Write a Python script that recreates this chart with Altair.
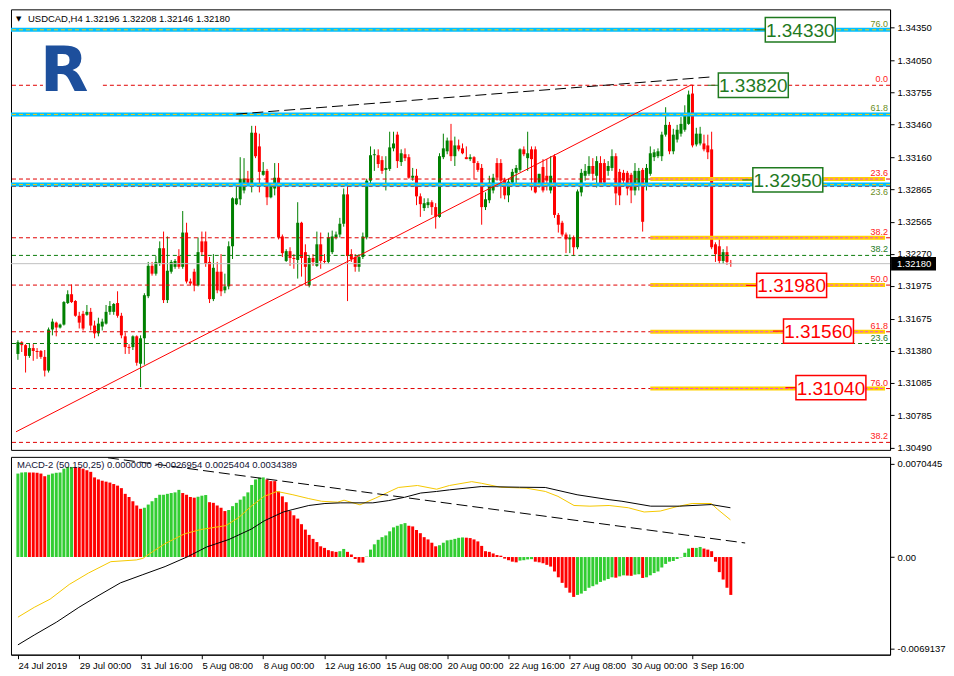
import altair as alt
import pandas as pd

# ---------------------------------------------------------------- data
header_text = "USDCAD,H4  1.32196 1.32208 1.32146 1.32180"
macd_title = "MACD-2 (50,150,25) 0.0000000 -0.0026954 0.0025404 0.0034389"

x_tick_labels = ["24 Jul 2019", "29 Jul 00:00", "31 Jul 16:00", "5 Aug 08:00", "8 Aug 00:00",
                 "12 Aug 16:00", "15 Aug 08:00", "20 Aug 00:00", "22 Aug 16:00", "27 Aug 08:00",
                 "30 Aug 00:00", "3 Sep 16:00"]
x_tick_step = 16  # bars between date labels

price_ticks = [1.34350, 1.34050, 1.33755, 1.33460, 1.33160, 1.32865, 1.32565, 1.32270,
               1.31975, 1.31675, 1.31380, 1.31085, 1.30785, 1.30490]
macd_ticks = [0.0070445, 0.0, -0.0069137]
macd_tick_labels = ["0.0070445", "0.00", "-0.0069137"]

# H4 candles, prices in points (1e-5)
open_pts = [
    131350, 131458, 131431, 131332, 131404, 131377, 131377, 131323, 131197, 131575,
    131638, 131593, 131620, 131818, 131899, 131836, 131701, 131719, 131710, 131737,
    131611, 131539, 131602, 131629, 131737, 131737, 131818, 131701, 131512, 131413,
    131413, 131512, 131260, 131494, 131881, 132160, 132088, 132187, 132322, 131845,
    132106, 132151, 132250, 132151, 132466, 132016, 132106, 131980, 132385, 132385,
    132196, 131854, 132106, 132106, 131935, 131971, 132340, 132727, 132772, 132853,
    132961, 132916, 133384, 133258, 132997, 133033, 132790, 132871, 132970, 132430,
    132205, 132295, 132232, 132214, 132556, 132286, 131980, 132232, 132160, 132358,
    132205, 132196, 132286, 132421, 132448, 132547, 132817, 132268, 132241, 132151,
    132241, 132421, 132943, 133177, 133177, 133132, 133042, 133051, 133240, 133366,
    133114, 133186, 133159, 132970, 132988, 132799, 132691, 132718, 132745, 132700,
    132610, 133159, 133213, 133312, 133168, 133267, 133240, 133159, 133141, 133159,
    133105, 133060, 132700, 132763, 132853, 133105, 133105, 132952, 132808, 132925,
    133015, 133042, 133231, 133150, 133231, 133231, 132898, 133069, 132988, 132853,
    133168, 132628, 132556, 132448, 132403, 132421, 132331, 132835, 132988, 133006,
    133078, 132988, 133105, 133105, 133033, 133060, 133168, 133024, 133015, 133015,
    132997, 132853, 132898, 133042, 132898, 133006, 133159, 133168, 133168, 133366,
    133456, 133213, 133321, 133375, 133411, 133465, 133744, 133276, 133285, 133285,
    133267, 133231, 132358, 132340, 132205, 132286, 132187]
high_pts = [
    131476, 131467, 131440, 131449, 131440, 131404, 131386, 131386, 131593, 131674,
    131647, 131629, 131836, 131935, 131989, 131845, 131737, 131746, 131800, 131773,
    131656, 131683, 131674, 131800, 131836, 131818, 131926, 131728, 131548, 131440,
    131521, 131521, 131521, 131908, 132196, 132196, 132250, 132385, 132475, 132430,
    132214, 132223, 132313, 132664, 132556, 132043, 132133, 132421, 132475, 132475,
    132241, 132268, 132196, 132268, 132088, 132385, 132790, 132916, 133159, 133150,
    133033, 133447, 133447, 133375, 133114, 133051, 132916, 133105, 133105, 132448,
    132313, 132331, 132268, 132745, 132565, 132358, 132250, 132268, 132475, 132466,
    132268, 132466, 132484, 132475, 132601, 132871, 132925, 132313, 132268, 132268,
    132466, 132961, 133258, 133231, 133231, 133168, 133168, 133393, 133393, 133393,
    133231, 133240, 133186, 133060, 133051, 132826, 132781, 132781, 132763, 132736,
    133195, 133375, 133339, 133465, 133348, 133321, 133285, 133258, 133186, 133168,
    133123, 133096, 132835, 132988, 133006, 133150, 133141, 132970, 132961, 133051,
    133087, 133240, 133258, 133393, 133258, 133258, 133006, 133141, 133141, 133168,
    133186, 132646, 132574, 132466, 132448, 132439, 132862, 133051, 133096, 133168,
    133150, 133168, 133168, 133141, 133123, 133231, 133195, 133051, 133042, 133033,
    133015, 133105, 133060, 133060, 133096, 133258, 133231, 133240, 133393, 133618,
    133483, 133420, 133456, 133528, 133636, 133771, 133825, 133429, 133438, 133366,
    133366, 133393, 132376, 132403, 132313, 132340, 132214]
low_pts = [
    131296, 131368, 131179, 131314, 131287, 131305, 131305, 131143, 131179, 131521,
    131512, 131584, 131611, 131809, 131818, 131692, 131584, 131566, 131701, 131566,
    131494, 131512, 131566, 131620, 131710, 131710, 131683, 131494, 131350, 131350,
    131386, 131242, 131044, 131251, 131863, 132070, 132070, 132160, 131818, 131818,
    132088, 132133, 132133, 132133, 131998, 131980, 131926, 131971, 132250, 132151,
    131818, 131836, 131908, 131881, 131908, 131944, 132223, 132718, 132718, 132826,
    132898, 132835, 133150, 132835, 132988, 132718, 132781, 132808, 132403, 132241,
    132196, 132160, 132133, 132043, 132061, 131980, 131962, 132160, 132151, 132133,
    132178, 132178, 132268, 132403, 132421, 132520, 131836, 132196, 132106, 132106,
    132223, 132403, 132898, 133033, 133060, 133006, 132853, 133033, 133213, 133060,
    133078, 133123, 132961, 132943, 132718, 132610, 132664, 132691, 132628, 132502,
    132601, 133141, 133186, 133123, 133078, 133213, 133186, 133141, 133123, 132961,
    133024, 132538, 132673, 132736, 132826, 132943, 132781, 132772, 132745, 132898,
    132898, 133024, 133168, 133033, 132853, 132826, 132880, 132835, 132853, 132826,
    132601, 132466, 132430, 132277, 132277, 132250, 132313, 132799, 132943, 132988,
    132943, 132880, 132898, 132898, 132988, 133033, 132718, 132718, 132889, 132808,
    132736, 132808, 132853, 132475, 132853, 132988, 133123, 133150, 133123, 133348,
    133186, 133186, 133294, 133348, 133393, 133456, 133249, 133258, 133267, 133213,
    133141, 132313, 132196, 132178, 132178, 132169, 132151]
close_pts = [
    131458, 131431, 131332, 131404, 131377, 131368, 131323, 131197, 131575, 131647,
    131593, 131620, 131827, 131899, 131827, 131701, 131638, 131584, 131737, 131611,
    131539, 131629, 131647, 131737, 131791, 131809, 131701, 131521, 131413, 131404,
    131512, 131269, 131494, 131890, 132160, 132088, 132196, 132322, 131845, 132115,
    132196, 132205, 132151, 132466, 132016, 131998, 131980, 132286, 132286, 132178,
    131854, 132142, 131935, 131926, 131971, 132340, 132781, 132781, 132961, 132961,
    132916, 133384, 133168, 133024, 133033, 132790, 132898, 132970, 132421, 132277,
    132295, 132232, 132223, 132556, 132232, 132151, 132232, 132196, 132358, 132205,
    132196, 132421, 132430, 132448, 132547, 132817, 132250, 132223, 132151, 132241,
    132430, 132943, 133177, 133186, 133096, 133033, 133060, 133249, 133285, 133123,
    133195, 133150, 132970, 132988, 132799, 132727, 132736, 132745, 132700, 132610,
    133168, 133240, 133312, 133168, 133267, 133231, 133195, 133141, 133159, 133105,
    133042, 132700, 132772, 132925, 132970, 132970, 132943, 132808, 132934, 133024,
    133060, 133231, 133186, 133195, 133141, 132835, 133006, 132853, 132943, 132988,
    132628, 132538, 132448, 132403, 132421, 132331, 132844, 133015, 133033, 133078,
    133006, 133123, 132916, 132925, 133078, 133168, 132826, 132808, 132943, 132871,
    132853, 133033, 133033, 132565, 133060, 133195, 133204, 133213, 133366, 133456,
    133213, 133366, 133411, 133465, 133555, 133735, 133267, 133375, 133375, 133231,
    133204, 132331, 132268, 132205, 132286, 132196, 132178]

# MACD-2 histogram, values in 1e-4
hist_e4 = [
    63.0, 63.8, 64.0, 63.8, 63.8, 63.6, 63.0, 61.0, 62.1, 63.0,
    63.6, 63.8, 66.7, 68.0, 68.0, 68.0, 67.5, 66.7, 65.5, 64.3,
    60.1, 58.6, 57.6, 56.9, 56.2, 55.1, 53.9, 52.0, 47.7, 45.3,
    42.1, 38.9, 36.4, 37.2, 39.6, 42.1, 44.6, 47.0, 47.0, 47.7,
    48.3, 48.8, 50.7, 48.3, 47.0, 45.3, 44.8, 45.5, 46.3, 46.8,
    41.4, 40.9, 38.9, 37.2, 34.7, 35.5, 38.4, 40.9, 43.3, 45.8,
    48.8, 54.4, 58.6, 59.9, 60.1, 58.6, 57.3, 57.3, 49.5, 45.8,
    41.4, 34.7, 31.5, 29.0, 24.8, 20.7, 16.7, 13.7, 11.3, 8.1,
    6.9, 5.2, 4.4, 3.9, 4.4, 6.1, 3.9, 1.9, -1.5, -4.2,
    -4.2, 0.3, 5.6, 9.6, 13.0, 15.0, 16.3, 19.4, 22.4, 23.6,
    24.8, 25.6, 23.6, 23.1, 20.4, 18.0, 15.0, 13.3, 10.8, 8.1,
    8.9, 10.8, 12.6, 13.0, 13.7, 14.5, 14.8, 14.6, 14.3, 13.3,
    11.8, 8.4, 4.4, 3.9, 2.7, 1.5, 1.0, -1.2, -2.4, -3.5,
    -4.0, -2.7, -2.4, -1.8, -1.6, -3.5, -4.0, -4.7, -5.9, -7.2,
    -10.9, -15.3, -19.5, -23.2, -26.9, -30.1, -28.6, -27.6, -25.6, -23.2,
    -22.0, -20.7, -18.8, -17.7, -16.6, -15.3, -15.6, -14.6, -13.8, -14.0,
    -14.2, -13.3, -13.0, -15.8, -15.3, -13.8, -12.1, -10.9, -7.9, -5.2,
    -3.5, -3.0, -1.5, -0.3, 3.2, 6.4, 6.9, 6.9, 7.6, 6.4,
    5.6, 4.4, -3.5, -11.4, -17.0, -23.2, -28.6]
# colour runs of the histogram (g = green, r = red)
hist_runs = [("g", 3), ("r", 5), ("g", 7), ("r", 18), ("g", 10), ("r", 4), ("g", 3), ("r", 5),
             ("g", 10), ("r", 19), ("g", 2), ("r", 5), ("g", 11), ("r", 8), ("g", 7), ("r", 14),
             ("g", 4), ("r", 11), ("g", 10), ("r", 1), ("g", 2), ("r", 2), ("g", 2), ("r", 1),
             ("g", 12), ("r", 1), ("g", 2), ("r", 8)]

# MACD lines: (bar index, value in 1e-4)
yellow_line = [(0, -45.4), (4.25, -38.0), (8.4, -31.8), (13.4, -20.7), (18.4, -12.1), (24.25, -3.5),
               (30.9, -2.2), (32.6, -1.0), (35.1, 3.9), (38.4, 10.1), (43.4, 17.4), (47.6, 20.7),
               (54.25, 23.7), (57.6, 29.8), (60.9, 38.4), (64.25, 45.8), (67.6, 49.5), (71.75, 47.0),
               (75.9, 44.1), (79.25, 42.1), (83.4, 41.4), (85.1, 42.9), (89.25, 39.4), (93.4, 44.6),
               (99.25, 52.5), (104.25, 54.0), (109.25, 51.2), (112.6, 54.0), (118.4, 56.9),
               (120.9, 55.7), (125.9, 52.7), (132.6, 52.0), (137.6, 49.5), (140.9, 45.8),
               (145.1, 38.9), (149.25, 38.4), (154.25, 38.9), (159.25, 37.2), (163.4, 34.0),
               (167.6, 34.7), (171.75, 37.9), (175.9, 40.4), (180.9, 40.4), (182.6, 35.9),
               (185.9, 28.1)]
black_line = [(0, -66.3), (4.25, -58.9), (10.1, -49.1), (15.9, -38.0), (20.9, -29.3), (26.75, -19.5),
              (32.6, -13.3), (38.4, -7.2), (44.25, 0.2), (49.25, 7.6), (55.1, 13.3), (60.9, 21.1),
              (64.25, 27.3), (69.25, 34.0), (71.75, 35.9), (75.9, 38.9), (80.1, 40.4), (84.25, 40.9),
              (92.6, 40.9), (96.75, 42.6), (100.9, 45.1), (105.1, 48.3), (109.25, 49.5),
              (112.6, 50.7), (120.9, 53.2), (130.9, 52.7), (137.6, 52.5), (145.9, 47.0),
              (154.25, 43.3), (157.6, 42.1), (165.1, 38.4), (172.6, 38.4), (180.9, 39.6),
              (185.9, 37.2)]
macd_trend = [(23.5, 74.9), (189.75, 10.6)]

# drawn objects on the price chart
price_trend_red = [(-0.5, 1.30634), (175.75, 1.33825)]
price_trend_black = [(57, 1.33555), (181, 1.33897)]
blue_levels = [1.34330, 1.33552, 1.32907]
red_dash_levels = [1.33820, 1.32958, 1.32889, 1.32418, 1.31983, 1.31554, 1.31032, 1.30537]
green_dash_levels = [1.32256, 1.31446]
fib_zone_levels = [1.32958, 1.32418, 1.31983, 1.31554, 1.31032]
fib_zone_start = 165
current_price = 1.32180

fib_levels = [1.34330, 1.33820, 1.33552, 1.32958, 1.32907, 1.32418, 1.32256, 1.31983,
              1.31554, 1.31446, 1.31032, 1.30537]
fib_texts = ["76.0", "0.0", "61.8", "23.6", "23.6", "38.2", "38.2", "50.0", "61.8", "23.6", "76.0", "38.2"]
fib_kind = ["olive", "red", "olive", "red", "olive_low", "red", "green", "red", "red", "green", "red", "red"]

box_levels = [1.34330, 1.33820, 1.32950, 1.31980, 1.31560, 1.31040]
box_texts = ["1.34330", "1.33820", "1.32950", "1.31980", "1.31560", "1.31040"]
box_left = [195.0, 182.75, 191.75, 192.75, 199.75, 203.0]
box_kind = ["green", "green", "green", "red", "red", "red"]

# ---------------------------------------------------------------- layout / styles
W, H1, H2 = 880, 441, 198
X_DOM = [-0.5, 226.25]
Y_DOM = [1.30468, 1.34518]
M_DOM = [-0.00737, 0.00756]
FONT = "Liberation Sans"
BOX_W = 18.25
BOX_HALF = 0.00112
# label kind -> (colour, baseline, dy)
fib_styles = {"red": ("#ff1a1a", "bottom", -1), "olive": ("#6b8e23", "bottom", -1),
              "olive_low": ("#6b8e23", "top", 3), "green": ("#1e7b1e", "bottom", -1)}
box_colors = {"green": "#1f7a1f", "red": "#ff0000"}

xs = alt.Scale(domain=X_DOM, nice=False, zero=False)
ys = alt.Scale(domain=Y_DOM, nice=False, zero=False)
ms = alt.Scale(domain=M_DOM, nice=False, zero=False)

price_axis = alt.Axis(orient="right", values=price_ticks, format=".5f", tickSize=4, labelPadding=3,
                      title=None, grid=False, labelOverlap=False, labelFlush=False)
label_expr = "[" + ",".join(f"'{s}'" for s in x_tick_labels) + f"][round(datum.value/{x_tick_step})]"
xaxis = alt.Axis(values=[k * x_tick_step for k in range(len(x_tick_labels))], labelExpr=label_expr,
                 labelAlign="left", tickSize=4, labelPadding=2, title=None, grid=False,
                 labelOverlap=False, labelFlush=False)
m_expr = (f"datum.value > 0.001 ? '{macd_tick_labels[0]}' : "
          f"(datum.value < -0.001 ? '{macd_tick_labels[2]}' : '{macd_tick_labels[1]}')")
maxis = alt.Axis(orient="right", values=macd_ticks, labelExpr=m_expr, tickSize=4, labelPadding=3,
                 title=None, grid=False, labelOverlap=False, labelFlush=False)


def X(f):  # top panel x (no axis)
    return alt.X(f, type="quantitative", scale=xs, axis=None)


def XB(f):  # bottom panel x (date axis)
    return alt.X(f, type="quantitative", scale=xs, axis=xaxis)


def Y(f):
    return alt.Y(f, type="quantitative", scale=ys, axis=price_axis)


def M(f):
    return alt.Y(f, type="quantitative", scale=ms, axis=maxis)


one = pd.DataFrame({"k": [0]})

n = len(close_pts)
cdf = pd.DataFrame({
    "i": list(range(n)),
    "o": [v / 1e5 for v in open_pts],
    "h": [v / 1e5 for v in high_pts],
    "l": [v / 1e5 for v in low_pts],
    "c": [v / 1e5 for v in close_pts],
})
cdf["dir"] = ["up" if c >= o else "down" for o, c in zip(cdf["o"], cdf["c"])]
cscale = alt.Scale(domain=["up", "down"], range=["#008000", "#ff0000"])

wicks = alt.Chart(cdf).mark_rule(strokeWidth=1).encode(
    x=X("i"), y=Y("l"), y2="h:Q",
    color=alt.Color("dir:N", scale=cscale, legend=None))
bodies = alt.Chart(cdf).mark_bar(width=3).encode(
    x=X("i"), y=Y("o"), y2="c:Q",
    color=alt.Color("dir:N", scale=cscale, legend=None))

red_lines = alt.Chart(pd.DataFrame({"y": red_dash_levels})).mark_rule(
    color="#e00000", strokeDash=[4, 3], strokeWidth=1).encode(y=Y("y"))
green_lines = alt.Chart(pd.DataFrame({"y": green_dash_levels})).mark_rule(
    color="#0a7a0a", strokeDash=[4, 3], strokeWidth=1).encode(y=Y("y"))
cur_line = alt.Chart(pd.DataFrame({"y": [current_price]})).mark_rule(
    color="#c0c0c0", strokeWidth=1).encode(y=Y("y"))
blue_thick = alt.Chart(pd.DataFrame({"y": blue_levels})).mark_rule(
    color="#00bfff", strokeWidth=4).encode(y=Y("y"))
blue_center = alt.Chart(pd.DataFrame({"y": blue_levels})).mark_rule(
    color="#ffcc00", strokeDash=[4, 3], strokeWidth=1).encode(y=Y("y"))

zdf = pd.DataFrame({"y": fib_zone_levels, "x0": fib_zone_start, "x1": X_DOM[1]})
zone_thick = alt.Chart(zdf).mark_rule(color="#ffd000", strokeWidth=4).encode(x=X("x0"), x2="x1:Q", y=Y("y"))
zone_center = alt.Chart(zdf).mark_rule(color="#ee44ee", strokeDash=[3, 2], strokeWidth=1).encode(
    x=X("x0"), x2="x1:Q", y=Y("y"))

tr_red = alt.Chart(pd.DataFrame(price_trend_red, columns=["i", "p"])).mark_line(
    color="#ff0000", strokeWidth=1).encode(x=X("i"), y=Y("p"))
tr_black = alt.Chart(pd.DataFrame(price_trend_black, columns=["i", "p"])).mark_line(
    color="black", strokeWidth=1, strokeDash=[11, 5]).encode(x=X("i"), y=Y("p"))

logo_bg = alt.Chart(one).mark_rect(fill="white").encode(
    x=alt.value(32), x2=alt.value(90), y=alt.value(35), y2=alt.value(86))
logo = alt.Chart(one).mark_text(text="R", font="DejaVu Sans", fontWeight="bold", fontSize=63,
                                color="#1d4f9c", align="left", baseline="alphabetic").encode(
    x=alt.value(29), y=alt.value(82))

fdf = pd.DataFrame({"y": fib_levels, "t": fib_texts, "k": fib_kind})
fib_layers = []
for kind, (col, base, dy) in fib_styles.items():
    sub = fdf[fdf["k"] == kind]
    fib_layers.append(alt.Chart(sub).mark_text(
        align="right", baseline=base, dy=dy, fontSize=9, font=FONT, color=col).encode(
        x=alt.value(W - 2), y=Y("y"), text="t:N"))

bdf = pd.DataFrame({"y": box_levels, "t": box_texts, "x0": box_left, "k": box_kind})
bdf["x1"] = bdf["x0"] + BOX_W
bdf["xm"] = bdf["x0"] + BOX_W / 2
bdf["xl"] = bdf["x0"] - 2.75
bdf["yt"] = bdf["y"] + BOX_HALF
bdf["yb"] = bdf["y"] - BOX_HALF
box_layers = []
for kind, col in box_colors.items():
    sub = bdf[bdf["k"] == kind]
    box_layers.append(alt.Chart(sub).mark_rule(color=col, strokeWidth=1).encode(
        x=X("xl"), x2="x0:Q", y=Y("y")))
    box_layers.append(alt.Chart(sub).mark_rect(fill="white", stroke=col, strokeWidth=1.5).encode(
        x=X("x0"), x2="x1:Q", y=Y("yt"), y2="yb:Q"))
    box_layers.append(alt.Chart(sub).mark_text(
        font=FONT, fontSize=19, color=col,
        align="center", baseline="middle", dy=1).encode(x=X("xm"), y=Y("y"), text="t:N"))

hdr_tri = alt.Chart(one).mark_text(text="\u25bc", font="DejaVu Sans", fontSize=7, color="black",
                                   align="left", baseline="middle").encode(x=alt.value(5), y=alt.value(10))
hdr = alt.Chart(one).mark_text(text=header_text, font=FONT, fontSize=9.5, color="black",
                               align="left", baseline="middle").encode(x=alt.value(17), y=alt.value(10))

cpdf = pd.DataFrame({"y": [current_price], "yt": [current_price + 0.00062],
                     "yb": [current_price - 0.00062], "t": [f"{current_price:.5f}"]})
cp_box = alt.Chart(cpdf).mark_rect(fill="black").encode(
    x=alt.value(W + 1), x2=alt.value(W + 46), y=Y("yt"), y2="yb:Q")
cp_txt = alt.Chart(cpdf).mark_text(color="white", font=FONT, fontSize=9.5, align="left",
                                   baseline="middle").encode(x=alt.value(W + 7), y=Y("y"), text="t:N")

top = alt.layer(
    wicks, bodies, red_lines, green_lines, cur_line, blue_thick, blue_center,
    zone_thick, zone_center, tr_red, tr_black, logo_bg, logo, *fib_layers, *box_layers,
    hdr_tri, hdr, cp_box, cp_txt
).properties(width=W, height=H1)

# ---------------------------------------------------------------- MACD panel
hist_col = [c for c, k in hist_runs for _ in range(k)]
hdf = pd.DataFrame({"i": list(range(n)), "v": [h / 1e4 for h in hist_e4], "z": 0.0, "col": hist_col})

hist = alt.Chart(hdf).mark_bar(width=3).encode(
    x=XB("i"), y=M("v"), y2="z:Q",
    color=alt.Color("col:N", scale=alt.Scale(domain=["g", "r"], range=["#32cd32", "#ff0000"]), legend=None))

ydf = pd.DataFrame(yellow_line, columns=["i", "v"])
ydf["v"] = ydf["v"] / 1e4
kdf = pd.DataFrame(black_line, columns=["i", "v"])
kdf["v"] = kdf["v"] / 1e4
tdf = pd.DataFrame(macd_trend, columns=["i", "v"])
tdf["v"] = tdf["v"] / 1e4

yl = alt.Chart(ydf).mark_line(color="#f5c800", strokeWidth=1).encode(x=XB("i"), y=M("v"))
kl = alt.Chart(kdf).mark_line(color="black", strokeWidth=1).encode(x=XB("i"), y=M("v"))
tl = alt.Chart(tdf).mark_line(color="black", strokeWidth=1, strokeDash=[11, 5]).encode(x=XB("i"), y=M("v"))
mtitle = alt.Chart(one).mark_text(text=macd_title, font=FONT, fontSize=9.5, color="#111133",
                                  align="left", baseline="middle").encode(x=alt.value(6), y=alt.value(8))

bottom = alt.layer(hist, yl, kl, tl, mtitle).properties(width=W, height=H2)

chart = alt.vconcat(top, bottom, spacing=2).properties(padding=0).resolve_scale(
    color="independent"
).configure_view(
    stroke="black", strokeWidth=1
).configure_axis(
    labelFont=FONT, labelFontSize=9.5, labelColor="black", tickColor="black",
    domainColor="black", grid=False
)

chart.save("out.html", embed_options={"renderer": "svg", "actions": False})
